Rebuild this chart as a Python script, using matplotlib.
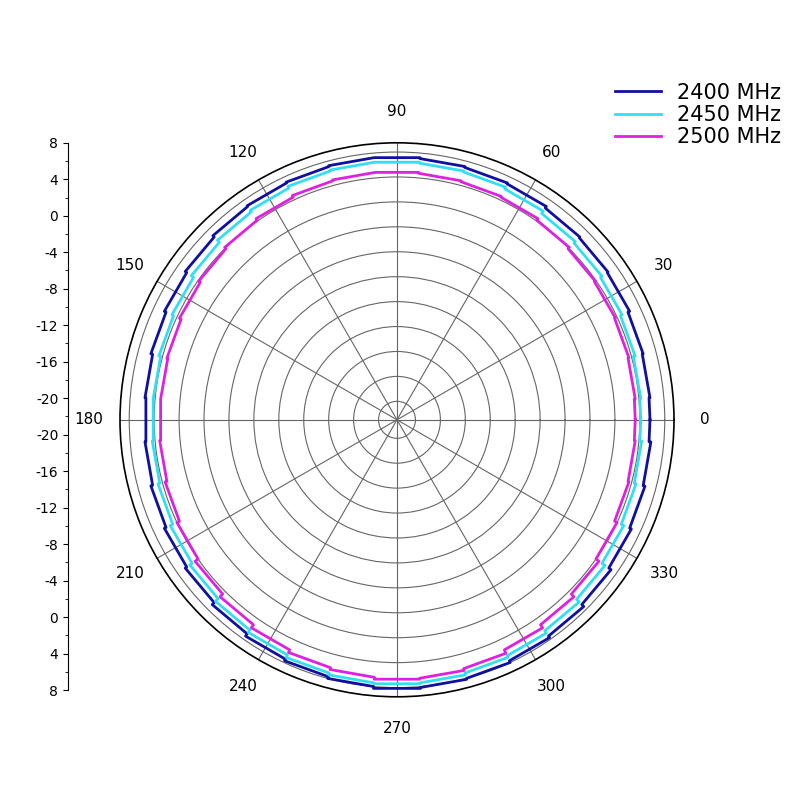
import numpy as np
import matplotlib.pyplot as plt

angles_deg = np.arange(0, 360, 10)
gain_2400 = [5.4, 5.5, 5.6, 5.8, 5.9, 6.0, 6.2, 6.3, 6.4, 6.5, 6.5, 6.4, 6.3, 6.2, 6.0, 5.8, 5.6, 5.4,
             5.3, 5.4, 5.6, 5.8, 6.0, 6.3, 6.6, 6.8, 7.0, 7.2, 7.1, 7.0, 6.8, 6.6, 6.3, 6.0, 5.8, 5.6]
gain_2450 = [4.4, 4.5, 4.7, 4.9, 5.1, 5.3, 5.6, 5.8, 5.9, 6.0, 6.0, 5.9, 5.7, 5.5, 5.2, 4.9, 4.7, 4.5,
             4.5, 4.6, 4.8, 5.1, 5.4, 5.8, 6.1, 6.4, 6.6, 6.7, 6.6, 6.4, 6.2, 5.9, 5.5, 5.1, 4.8, 4.6]
gain_2500 = [3.8, 3.9, 4.0, 4.1, 4.2, 4.4, 4.6, 4.7, 4.8, 4.9, 4.9, 4.8, 4.6, 4.4, 4.2, 4.0, 3.8, 3.7,
             3.7, 3.8, 4.0, 4.3, 4.7, 5.1, 5.5, 5.8, 6.0, 6.2, 6.1, 5.9, 5.5, 5.1, 4.7, 4.3, 4.0, 3.9]
series = [('2400 MHz', gain_2400, '#1010a0'), ('2450 MHz', gain_2450, '#30e0f0'), ('2500 MHz', gain_2500, '#e020e0')]
left_labels = ['8', '4', '0', '-4', '-8', '-12', '-16', '-20', '-20', '-16', '-12', '-8', '-4', '0', '4', '8']

fig = plt.figure(figsize=(8, 8), dpi=100)
ax = fig.add_axes([0.15, 0.129, 0.6925, 0.6925], projection='polar')
for name, g, c in series:
    th = np.deg2rad(np.append(angles_deg, 360))
    r = np.append(g, g[0])
    ax.plot(th, r, color=c, lw=2, drawstyle='steps-mid', label=name)
ax.set_ylim(-22, 8)
ax.set_yticks(np.arange(-20, 8, 2.7))
ax.set_yticklabels([])
ax.set_xticks(np.deg2rad(np.arange(0, 360, 30)))
ax.set_xticklabels([str(a) for a in range(0, 360, 30)], fontsize=11)
ax.tick_params(axis='x', pad=12)
ax.grid(color='#666666', lw=0.8)
ax.spines['polar'].set_linewidth(1.2)
fig.legend(loc='upper right', bbox_to_anchor=(1.0, 0.92), frameon=False, fontsize=15,
           handlelength=2.2, labelspacing=0.1)

lax = fig.add_axes([0.085, 0.1375, 0.01, 0.684])
lax.set_ylim(0, 15)
lax.set_yticks(np.arange(0, 16))
lax.set_yticklabels(left_labels[::-1], fontsize=10)
lax.set_yticks(np.arange(0, 15, 0.5), minor=True)
lax.set_ylim(0, 15)
for s in ['top', 'right', 'bottom']:
    lax.spines[s].set_visible(False)
lax.set_xticks([])
fig.savefig('out.png')
